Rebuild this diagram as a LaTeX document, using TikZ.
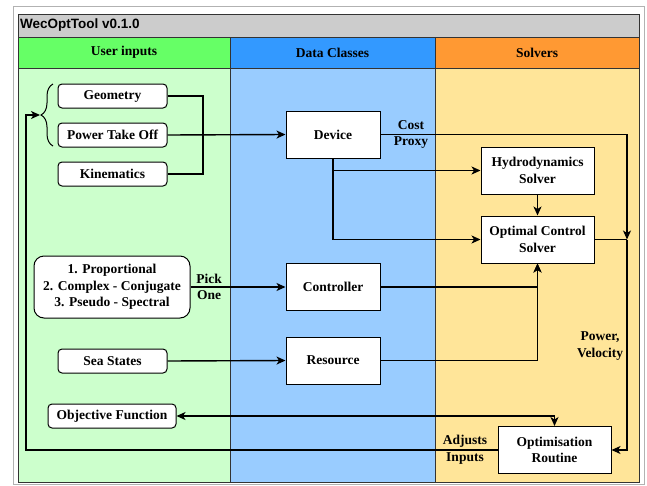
\documentclass[tikz,border=0pt]{standalone}
\usepackage{fontspec}
\setmainfont{Liberation Serif}
\newfontfamily\bodyfont{Liberation Serif}
\newfontfamily\titlefont{Liberation Sans}
\usetikzlibrary{arrows.meta,decorations.pathreplacing}
\definecolor{tband}{HTML}{CCCCCC}
\definecolor{gHead}{HTML}{66FF66}
\definecolor{bHead}{HTML}{3399FF}
\definecolor{oHead}{HTML}{FF9933}
\definecolor{gBody}{HTML}{CCFFCC}
\definecolor{bBody}{HTML}{99CCFF}
\definecolor{oBody}{HTML}{FFE599}
\definecolor{frameC}{HTML}{333333}
\begin{document}
\begin{tikzpicture}[x=1pt,y=-1pt,
  every node/.style={font=\fontsize{13.5}{16.5}\bodyfont\bfseries},
  frame/.style={draw=frameC, line width=1pt},
  inbox/.style={draw, line width=1pt, fill=white, rounded corners=4pt, minimum height=24pt, inner sep=2pt},
  sqbox/.style={draw, line width=1pt, fill=white, minimum width=94pt, minimum height=47pt, inner sep=2pt, align=center},
  solbox/.style={draw, line width=1pt, fill=white, minimum width=113pt, minimum height=47pt, inner sep=2pt, align=center},
  conn/.style={line width=1.4pt},
  arr/.style={conn, -{Stealth[length=9pt,width=8pt,inset=2.5pt]}},
  darr/.style={conn, {Stealth[length=9pt,width=8pt,inset=2.5pt]}-{Stealth[length=9pt,width=8pt,inset=2.5pt]}},
  lbl/.style={align=center, inner sep=0pt}]
\useasboundingbox (0,0) rectangle (647,485);
% outer border
\draw[gray!60, line width=0.8pt] (13,6) rectangle (644,484);
% lanes
\fill[tband] (18,14) rectangle (639,37);
\fill[gHead] (18,37) rectangle (230,68);
\fill[bHead] (230,37) rectangle (435,68);
\fill[oHead] (435,37) rectangle (639,68);
\fill[gBody] (18,68) rectangle (230,482);
\fill[bBody] (230,68) rectangle (435,482);
\fill[oBody] (435,68) rectangle (639,482);
\draw[frame] (18,14) rectangle (639,482);
\draw[frame] (18,37) -- (639,37);
\draw[frame] (18,68) -- (639,68);
\draw[frame] (230,37) -- (230,482);
\draw[frame] (435,37) -- (435,482);
\node[anchor=west, inner sep=0pt, font=\fontsize{13.5}{16}\titlefont\bfseries] (title) at (20,25.5) {WecOptTool v0.1.0};
\node (h1) at (124,52.5) {User inputs};
\node (h2) at (332.5,52.5) {Data Classes};
\node (h3) at (537,52.5) {Solvers};
% user input nodes
\node[inbox, minimum width=109pt] (geo) at (112.5,96) {Geometry};
\node[inbox, minimum width=109pt] (pto) at (112.5,135) {Power Take Off};
\node[inbox, minimum width=109pt] (kin) at (112.5,174) {Kinematics};
\node[inbox, minimum width=156pt, rounded corners=10pt, minimum height=62pt, align=center] (opts) at (112,287) {1. Proportional\\2. Complex - Conjugate\\3. Pseudo - Spectral};
\node[inbox, minimum width=109pt] (sea) at (112.5,361) {Sea States};
\node[inbox, minimum width=128pt] (obj) at (112,416) {Objective Function};
% data classes
\node[sqbox] (dev) at (333,134.5) {Device};
\node[sqbox] (ctl) at (333,287) {Controller};
\node[sqbox] (res) at (333,360.5) {Resource};
% solvers
\node[solbox] (hyd) at (537.5,170.5) {Hydrodynamics\\Solver};
\node[solbox] (ocs) at (537.5,239.5) {Optimal Control\\Solver};
\node[solbox] (opt) at (554.5,450) {Optimisation\\Routine};
% brace
\draw[decorate, decoration={brace, amplitude=12pt}, line width=1pt] (53,146) -- (53,84);
\coordinate (btip) at (40,115);
\coordinate (gk) at (203,96);
\coordinate (jn) at (627,239.5);
\coordinate (lc) at (26,450);
% connectors
\draw[conn] (geo.east) -- (gk) |- (kin.east);
\draw[arr] (pto.east) -- (dev.west);
\draw[arr] (dev.south) |- (hyd.west);
\draw[arr] (dev.south) |- (ocs.west);
\draw[arr] (hyd.south) -- (ocs.north);
\draw[arr] (dev.east) -| (jn);
\draw[conn] (ocs.east) -- (jn);
\draw[arr] (jn) |- (opt.east);
\draw[arr] (opts.east) -- (ctl.west);
\draw[arr] (sea.east) -- (res.west);
\draw[arr] (ctl.east) -| (ocs.south);
\draw[arr] (res.east) -| (ocs.south);
\draw[darr] (obj.east) -| (opt.north);
\draw[arr] (opt.west) -- (lc) |- (btip);
% labels
\node[lbl] (lcost) at (411,134.5) {Cost\\Proxy};
\node[lbl] (lpick) at (209,287) {Pick\\One};
\node[lbl] (lpow) at (600,346) {Power,\\Velocity};
\node[lbl] (ladj) at (465,449.5) {Adjusts\\Inputs};
\end{tikzpicture}
\end{document}
